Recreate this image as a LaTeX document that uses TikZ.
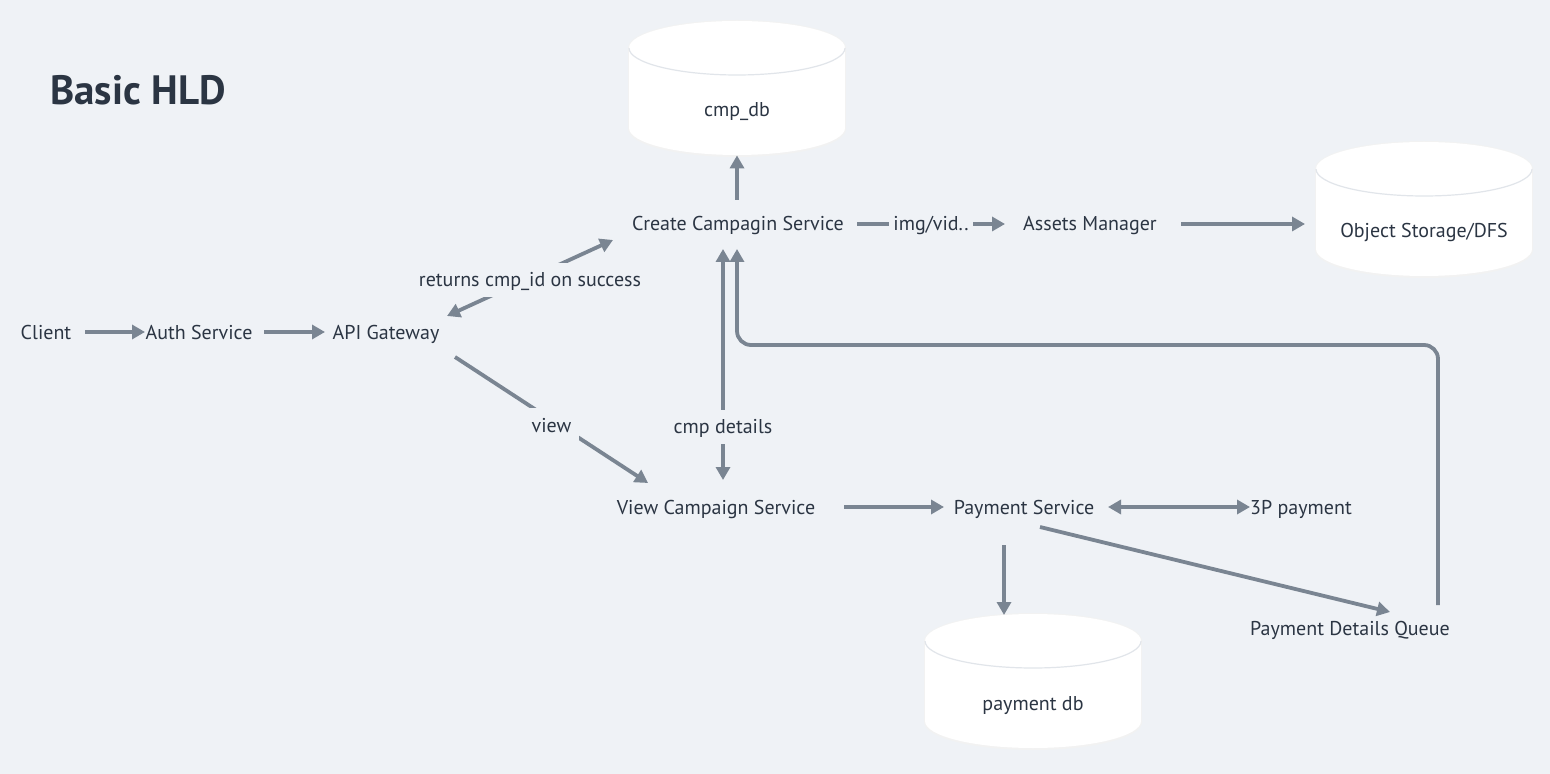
\documentclass[tikz,border=0pt]{standalone}
\usepackage{fontspec}
\setmainfont{PT Sans}
\usetikzlibrary{arrows.meta,calc}
\definecolor{hldbg}{HTML}{EFF2F6}
\definecolor{hldline}{HTML}{7A8592}
\definecolor{hldtext}{HTML}{2B3543}
\definecolor{hlddbedge}{HTML}{E1E5EA}

% database drum: name, centre, text
\newcommand{\dbdrum}[3]{%
  \begin{scope}[shift={#2}]
    \fill[black!5] (-109,-40) rectangle (109,41);
    \fill[black!5] (0,41) ellipse [x radius=109, y radius=28];
    \fill[black!5] (0,-40) ellipse [x radius=109, y radius=28];
    \fill[white] (-108,-40) rectangle (108,40);
    \fill[white] (0,40) ellipse [x radius=108, y radius=27];
    \fill[white] (0,-40) ellipse [x radius=108, y radius=27];
    \draw[hlddbedge, line width=0.6pt] (-108,-40) arc [start angle=180, end angle=0, x radius=108, y radius=27];
    \node[dbbox] (#1) at (0,0) {};
    \node[txt] (#1txt) at (0,22) {#3};
  \end{scope}}

\begin{document}
\begin{tikzpicture}[x=0.5pt, y=-0.5pt,
    txt/.style={text=hldtext, font=\fontsize{10}{12}\selectfont, text height=8pt, text depth=1pt},
    lbl/.style={txt, fill=hldbg, inner sep=4pt},
    dbbox/.style={minimum width=108pt, minimum height=67pt, inner sep=0pt},
    arr/.style={draw=hldline, line width=1.9pt, -{Triangle[length=6.5pt, width=7pt]}},
    barr/.style={arr, {Triangle[length=6.5pt, width=7pt]}-{Triangle[length=6.5pt, width=7pt]}}]

    \useasboundingbox (0,0) rectangle (1550,774);
    \fill[hldbg] (0,0) rectangle (1550,774);

    % Title
    \node[anchor=west, text=hldtext, font=\fontsize{20.5}{24}\selectfont\bfseries, inner sep=0pt] (title) at (50,90) {Basic HLD};

    % Stores
    \dbdrum{cmpdb}{(737,88)}{cmp\_db}
    \dbdrum{objst}{(1424,209)}{Object Storage/DFS}
    \dbdrum{paydb}{(1033,681)}{payment db}

    % Services
    \node[txt] (client) at (46,333) {Client};
    \node[txt] (auth) at (199,333) {Auth Service};
    \node[txt] (api) at (386,333) {API Gateway};
    \node[txt] (ccs) at (738,224) {Create Campagin Service};
    \node[txt] (assets) at (1090,224) {Assets Manager};
    \node[txt] (vcs) at (716,507) {View Campaign Service};
    \node[txt] (pay) at (1024,507) {Payment Service};
    \node[txt] (tpp) at (1301,507) {3P payment};
    \node[txt] (queue) at (1350,628) {Payment Details Queue};

    % Request path
    \draw[arr] ($(client)+(39,-1)$) -- ($(auth)+(-54,-1)$);
    \draw[arr] ($(auth)+(65,-1)$) -- ($(api)+(-61,-1)$);
    \draw[barr] ($(api)+(61,-17)$) -- node[lbl, yshift=-1pt] (ret) {returns cmp\_id on success} ($(ccs)+(-125,16)$);
    \draw[arr] ($(api)+(69,24)$) -- node[lbl, yshift=-2.5pt] (view) {view} ($(vcs)+(-68,-24)$);

    % Create side
    \draw[arr] ($(ccs)+(-1,-24)$) -- (cmpdb.south);
    \draw[arr] ($(ccs)+(119,0)$) -- node[lbl, inner sep=2pt] (imgvid) {img/vid..} ($(assets)+(-85,0)$);
    \draw[arr] ($(assets)+(91,0)$) -- ($(objst)+(-119,15)$);
    \draw[barr] ($(vcs)+(7,-27)$) -- node[lbl, pos=0.23] (details) {cmp details} ($(ccs)+(-15,25)$);

    % Payment side
    \draw[arr] ($(vcs)+(128,0)$) -- ($(pay)+(-80,0)$);
    \draw[barr] ($(pay)+(84,0)$) -- ($(tpp)+(-51,0)$);
    \draw[arr] ($(pay)+(-20,38)$) -- ($(pay)+(-20,108)$);
    \draw[arr] ($(pay)+(16,20)$) -- ($(queue)+(40,-16)$);
    \draw[arr, rounded corners=7pt] ($(queue)+(88,-23)$) |- ($(ccs)+(-1,121)$) -- ($(ccs)+(-1,25)$);
\end{tikzpicture}
\end{document}
